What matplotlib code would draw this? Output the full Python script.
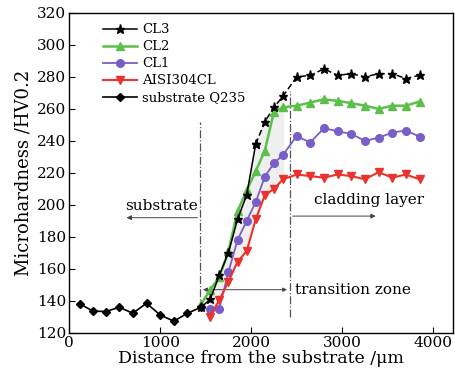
import numpy as np
import matplotlib.pyplot as plt

plt.rcParams['font.family'] = ['DejaVu Serif']
plt.rcParams['mathtext.fontset'] = 'dejavuserif'

# substrate Q235
x_sub = [120, 260, 400, 550, 700, 850, 1000, 1150, 1300, 1450]
hv_sub = [138, 133.7, 133.3, 136, 132.3, 138.5, 131.2, 127.3, 132.3, 136]

# transition + cladding positions
x_cl = [1450, 1550, 1650, 1750, 1850, 1950, 2050, 2150, 2250, 2350,
        2500, 2650, 2800, 2950, 3100, 3250, 3400, 3550, 3700, 3850]
hv_cl3 = [136, 141, 156, 170, 191, 206, 238, 252, 261, 268,
          280, 281, 285, 281, 282, 280, 282, 282, 279, 281]
hv_cl2 = [138, 147, 155, 171, 196, 209, 221, 234, 258, 261,
          262, 264, 266, 265, 263.6, 262, 260, 262, 262, 264.6]
# CL1 and AISI304CL start one step later
hv_cl1 = [134.8, 135.2, 158, 178, 190, 201.7, 217.7, 226, 231.3,
          243, 239, 248, 246, 244.4, 240, 242, 245.2, 246.5, 242.7]
hv_aisi = [130.2, 140.6, 152, 164.6, 171, 191, 206, 210, 216,
           219, 218, 217, 219, 218, 216, 220.5, 217, 219, 216]

green = '#5cbf4a'
purple = '#7a5ec8'
red = '#e8332f'

fig = plt.figure(figsize=(4.55, 3.8), dpi=100)
ax = fig.add_axes([0.152, 0.124, 0.844, 0.842])

x_cl_b = x_cl[1:]

# light shading across the transition band
n_tr = 9
upper = np.maximum(hv_cl3[1:1 + n_tr], hv_cl2[1:1 + n_tr])
ax.fill_between(x_cl_b[:n_tr], hv_aisi[:n_tr], upper, color='#efefef', zorder=1)

ax.plot(x_cl[:7], hv_cl3[:7], color='black', lw=1.1, marker='*', ms=6.5, zorder=5,
        label='CL3')
ax.plot(x_cl[6:], hv_cl3[6:], color='black', lw=1.1, ls=(0, (4, 2)), marker='*',
        ms=6.5, zorder=5)
ax.plot(x_cl, hv_cl2, color=green, lw=1.8, marker='^', ms=6, zorder=4, label='CL2')
ax.plot(x_cl_b, hv_cl1, color=purple, lw=1.3, marker='o', ms=5.5, zorder=4, label='CL1')
ax.plot(x_cl_b, hv_aisi, color=red, lw=1.5, marker='v', ms=6, zorder=4, label='AISI304CL')
ax.plot(x_sub, hv_sub, color='black', lw=1.2, marker='D', ms=4.5, zorder=5,
        label='substrate Q235')

# zone boundaries
ax.plot([1440, 1440], [134, 252], color='#555555', lw=0.9, ls='-.', zorder=3)
ax.plot([2425, 2425], [130, 271], color='#555555', lw=0.9, ls='-.', zorder=3)

arrow = dict(arrowstyle='-|>', color='#444444', lw=0.7, mutation_scale=7)
ax.annotate('', xy=(600, 192), xytext=(1440, 192), arrowprops=arrow)
ax.annotate('', xy=(3400, 193), xytext=(2425, 193), arrowprops=arrow)
ax.annotate('', xy=(2425, 147), xytext=(1440, 147),
            arrowprops=dict(arrowstyle='<|-|>', color='#444444', lw=0.7,
                            mutation_scale=6))

ax.text(1410, 199, 'substrate', ha='right', va='center', fontsize=11)
ax.text(2690, 203, 'cladding layer', ha='left', va='center', fontsize=11)
ax.text(2480, 147, 'transition zone', ha='left', va='center', fontsize=11)

ax.set_xlim(0, 4220)
ax.set_ylim(120, 320)
ax.set_xticks([0, 1000, 2000, 3000, 4000])
ax.set_yticks(np.arange(120, 321, 20))
ax.tick_params(direction='in', length=4, labelsize=11, pad=2)
ax.set_xlabel('Distance from the substrate /μm', fontsize=12.5, labelpad=0)
ax.set_ylabel('Microhardness /HV0.2', fontsize=13, labelpad=3)
for s in ax.spines.values():
    s.set_linewidth(1.0)

ax.legend(loc='upper left', frameon=False, fontsize=9.5, handlelength=2.6,
          handletextpad=0.4, labelspacing=0.3, borderaxespad=0.4,
          bbox_to_anchor=(0.06, 1.0))

fig.savefig('out.png', dpi=100)
